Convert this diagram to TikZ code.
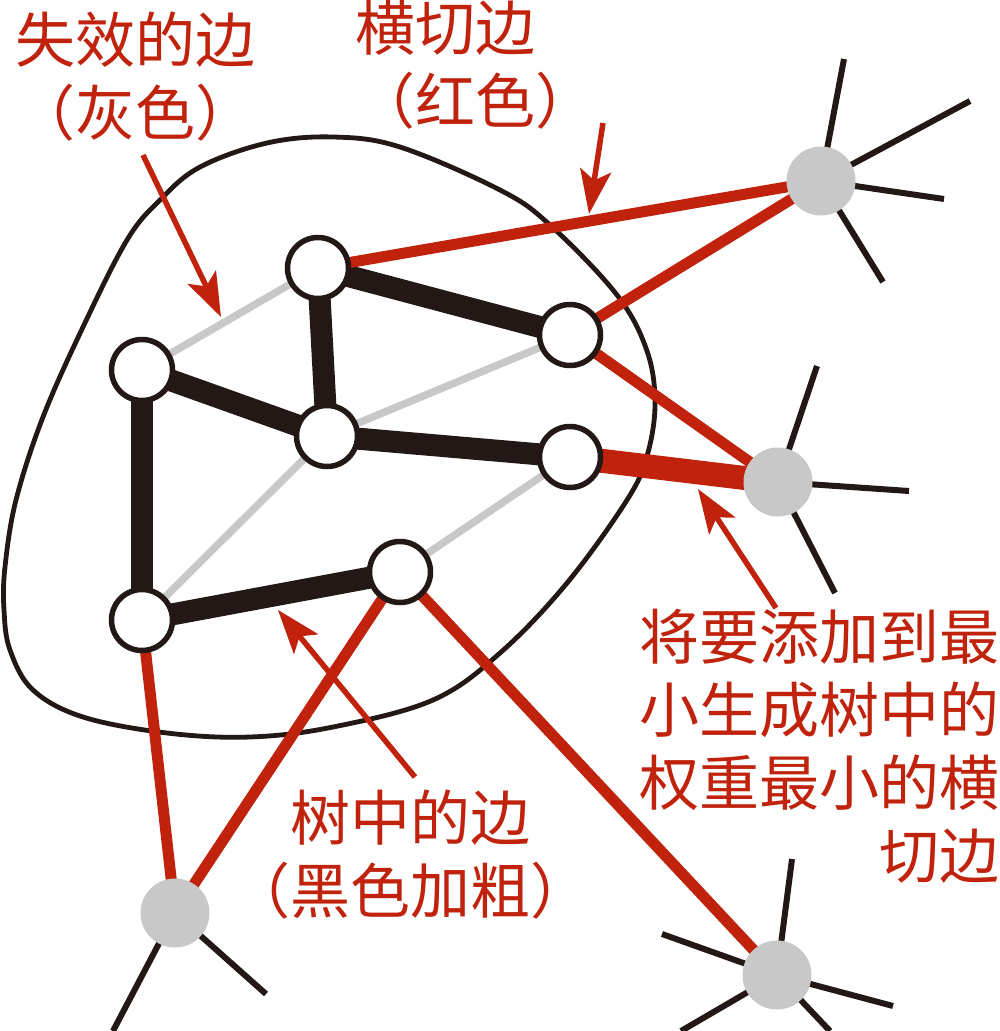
\documentclass[tikz,border=0pt]{standalone}
\usepackage{fontspec}
\newfontfamily\cjk{Noto Sans CJK SC}
\usetikzlibrary{arrows.meta,backgrounds}
\definecolor{mred}{RGB}{192,34,12}
\definecolor{mblack}{RGB}{35,24,21}
\definecolor{mgray}{RGB}{200,200,200}
\tikzset{
 vtx/.style={circle,draw=mblack,fill=white,line width=5.5pt,minimum size=61pt,inner sep=0pt},
 ext/.style={circle,fill=mgray,minimum size=69pt,inner sep=0pt},
 treeedge/.style={mblack,line width=22pt},
 deadedge/.style={mgray,line width=7.5pt},
 cutedge/.style={mred,line width=11pt},
 lightedge/.style={mred,line width=24pt},
 spoke/.style={mblack,line width=6pt},
 callout/.style={mred,line width=5.5pt,-{Stealth[length=44pt,width=31pt,inset=10pt]}},
 lbl/.style={text=mred,font=\cjk\fontsize{60}{73}\selectfont,inner sep=0pt},
 blob/.style={mblack,line width=4.8pt},
}
\begin{document}
\begin{tikzpicture}[x=1pt,y=-1pt]
\useasboundingbox (0,0) rectangle (1000,1031);
% vertices inside the cut
\node[vtx] (A) at (318,268) {};
\node[vtx] (B) at (142,370) {};
\node[vtx] (C) at (327,436) {};
\node[vtx] (D) at (570,335) {};
\node[vtx] (E) at (570,457) {};
\node[vtx] (F) at (142,620) {};
\node[vtx] (G) at (400,572) {};
% vertices outside
\node[ext] (H1) at (821,181) {};
\node[ext] (H2) at (778,482) {};
\node[ext] (H3) at (777,975) {};
\node[ext] (H4) at (175,913) {};
% spoke ends
\coordinate (s11) at (844,59);
\coordinate (s12) at (970,101);
\coordinate (s13) at (944,199);
\coordinate (s14) at (883,282);
\coordinate (s21) at (817,366);
\coordinate (s22) at (909,491);
\coordinate (s23) at (835,593);
\coordinate (s31) at (792,859);
\coordinate (s32) at (662,934);
\coordinate (s33) at (893,1006);
\coordinate (s34) at (681,1031);
\coordinate (s35) at (830,1031);
\coordinate (s41) at (113,1031);
\coordinate (s42) at (266,994);
\begin{scope}[on background layer]
\fill[white] (0,0) rectangle (1000,1031);
\draw[blob] plot[smooth cycle,tension=0.6] coordinates {
 (333,137) (400,147) (500,190) (550,225) (617,295) (647,351) (655,404)
 (647,456) (627,500) (567,583) (500,653) (433,700) (333,727) (250,737)
 (167,733) (83,717) (33,690) (10,650) (4,610) (5,567) (16,500) (43,417)
 (83,327) (127,240) (160,200) (200,167) (267,143)};
% gray (dead) edges
\draw[deadedge] (B.center) -- (A.center);
\draw[deadedge] (C.center) -- (D.center);
\draw[deadedge] (C.center) -- (F.center);
\draw[deadedge] (E.center) -- (G.center);
% tree edges
\draw[treeedge] (A.center) -- (D.center);
\draw[treeedge] (A.center) -- (C.center);
\draw[treeedge] (B.center) -- (C.center);
\draw[treeedge] (B.center) -- (F.center);
\draw[treeedge] (C.center) -- (E.center);
\draw[treeedge] (F.center) -- (G.center);
% crossing edges
\draw[cutedge] (A.center) -- (H1.center);
\draw[cutedge] (D.center) -- (H1.center);
\draw[cutedge] (D.center) -- (H2.center);
\draw[lightedge] (E.center) -- (H2.center);
\draw[cutedge] (F.center) -- (H4.center);
\draw[cutedge] (G.center) -- (H4.center);
\draw[cutedge] (G.center) -- (H3.center);
% spokes
\foreach \s in {s11,s12,s13,s14} \draw[spoke] (H1.center) -- (\s);
\foreach \s in {s21,s22,s23} \draw[spoke] (H2.center) -- (\s);
\foreach \s in {s31,s32,s33,s34,s35} \draw[spoke] (H3.center) -- (\s);
\foreach \s in {s41,s42} \draw[spoke] (H4.center) -- (\s);
\end{scope}
% labels
\node[lbl,anchor=west,align=left] (lfail) at (15,77) {失效的边\\（灰色）};
\node[lbl,anchor=west,align=left] (lcut) at (355,65) {横切边\\（红色）};
\node[lbl,align=center] (ltree) at (410,855) {树中的边\\（黑色加粗）};
\node[lbl,anchor=east,align=right] (llight) at (1000,746) {将要添加到最\\小生成树中的\\权重最小的横\\切边};
% callout arrows
\coordinate (a1s) at (143,155); \coordinate (a1e) at (221,317);
\coordinate (a2s) at (603,123); \coordinate (a2e) at (589,214);
\coordinate (a3s) at (415,777); \coordinate (a3e) at (278,610);
\coordinate (a4s) at (776,608); \coordinate (a4e) at (698,489);
\draw[callout] (a1s) -- (a1e);
\draw[callout] (a2s) -- (a2e);
\draw[callout] (a3s) -- (a3e);
\draw[callout] (a4s) -- (a4e);
\end{tikzpicture}
\end{document}
